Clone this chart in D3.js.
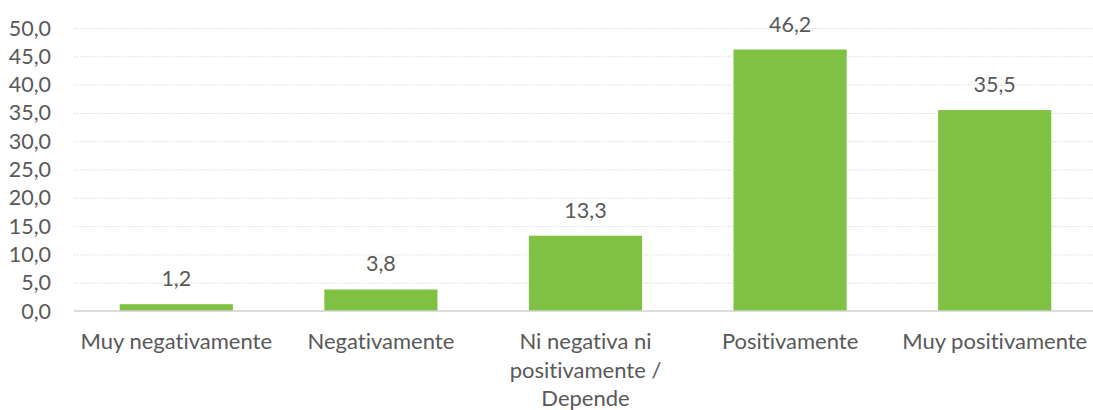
<!DOCTYPE html>
<html>
<head>
<meta charset="utf-8">
<script src="https://cdn.jsdelivr.net/npm/d3@7"></script>
<style>
  body { margin: 0; background: #fff; }
  svg text { font-family: Lato, "Open Sans", sans-serif; fill: #595959; font-variant-ligatures: none; }
  .grid line { stroke: #d9d9d9; stroke-dasharray: 1.5 1.5; }
  .grid .domain { display: none; }
</style>
</head>
<body>
<svg id="chart" width="1093" height="410"></svg>
<script>
const categories = [
  ["Muy negativamente"],
  ["Negativamente"],
  ["Ni negativa ni", "positivamente /", "Depende"],
  ["Positivamente"],
  ["Muy positivamente"]
];
const values = [1.2, 3.8, 13.3, 46.2, 35.5];
const yTicks = [0, 5, 10, 15, 20, 25, 30, 35, 40, 45, 50];

const fmt = v => v.toFixed(1).replace(".", ",");

const svg = d3.select("#chart");
const pad = { left: 74, right: 1097, top: 28, bottom: 311 };

const x = d3.scaleBand()
  .domain(d3.range(values.length))
  .range([pad.left, pad.right])
  .paddingInner(0.447)
  .paddingOuter(0.2235);

const y = d3.scaleLinear().domain([0, 50]).range([pad.bottom, pad.top]);

// gridlines
svg.append("g")
  .attr("class", "grid")
  .attr("transform", `translate(${pad.left},0)`)
  .call(d3.axisLeft(y).tickValues(yTicks.slice(1)).tickSize(-(1093 - pad.left)).tickFormat(""));

// y labels
svg.append("g").selectAll("text")
  .data(yTicks)
  .enter()
  .append("text")
  .attr("x", 51)
  .attr("y", d => y(d))
  .attr("dy", 7.5)
  .attr("text-anchor", "end")
  .attr("font-size", 21.5)
  .text(d => fmt(d));

// bars
svg.append("g").selectAll("rect")
  .data(values)
  .enter()
  .append("rect")
  .attr("x", (d, i) => x(i))
  .attr("y", d => y(d))
  .attr("width", x.bandwidth())
  .attr("height", d => y(0) - y(d))
  .attr("fill", "#7fc142");

// baseline
svg.append("line")
  .attr("x1", pad.left).attr("x2", 1093)
  .attr("y1", y(0)).attr("y2", y(0))
  .attr("stroke", "#d0d0d0").attr("stroke-width", 1.3);

// value labels
svg.append("g").selectAll("text")
  .data(values)
  .enter()
  .append("text")
  .attr("x", (d, i) => x(i) + x.bandwidth() / 2)
  .attr("y", d => y(d) - 18)
  .attr("text-anchor", "middle")
  .attr("font-size", 21.5)
  .text(d => fmt(d));

// category labels
svg.append("g").selectAll("text")
  .data(categories)
  .enter()
  .append("text")
  .attr("text-anchor", "middle")
  .attr("font-size", 22)
  .each(function(lines, i) {
    d3.select(this).selectAll("tspan")
      .data(lines)
      .enter()
      .append("tspan")
      .attr("x", x(i) + x.bandwidth() / 2)
      .attr("y", (l, j) => 349 + j * 28.5)
      .text(l => l);
  });
</script>
</body>
</html>
